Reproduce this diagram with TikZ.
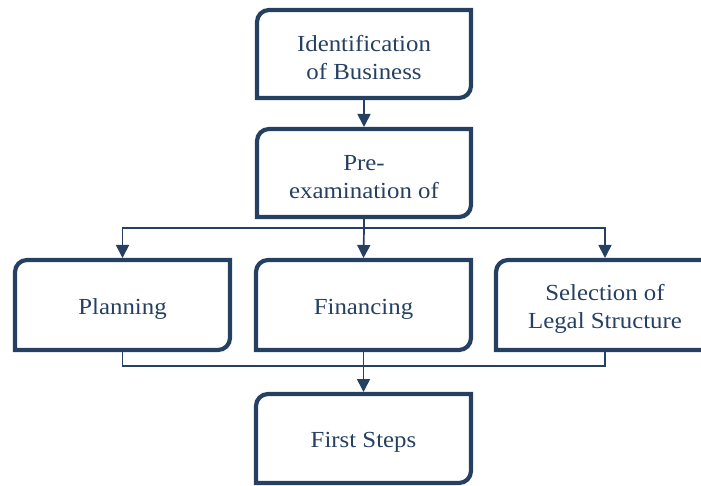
\documentclass[tikz,border=0pt]{standalone}
\usepackage{fontspec}
\setmainfont{Liberation Serif}[FakeStretch=1.08]
\usetikzlibrary{arrows.meta,calc}
\definecolor{navy}{RGB}{38,64,97}
\newcommand{\rr}{12pt}
\newcommand{\bizbox}[1]{\draw[boxline] (#1.north east) -- ([yshift=\rr]#1.south east) arc[start angle=0,end angle=-90,radius=\rr] -- (#1.south west) -- ([yshift=-\rr]#1.north west) arc[start angle=180,end angle=90,radius=\rr] -- cycle;}
\begin{document}
\begin{tikzpicture}[x=1pt,y=1pt,
  boxnode/.style={draw=none,rectangle,inner sep=0pt,outer sep=0pt},
  lbl/.style={align=center,text=navy,yshift=-4pt,inner sep=0pt,
    font=\fontsize{23}{28}\selectfont},
  boxline/.style={draw=navy,line width=4.2pt,line join=miter},
  conn/.style={draw=navy,line width=1.7pt},
  arr/.style={conn,-{Triangle[width=13pt,length=13pt]},shorten >=2pt}]
\useasboundingbox (0,0) rectangle (701,485);
\clip (0,0) rectangle (701,485);
\node[boxnode,minimum width=214pt,minimum height=88pt,label={[lbl]center:{Identification\\of Business}}] (ident) at (364,431) {};
\node[boxnode,minimum width=214pt,minimum height=88pt,label={[lbl]center:{Pre-\\examination of}}] (pre) at (364,312) {};
\node[boxnode,minimum width=215pt,minimum height=90pt,label={[lbl]center:Planning}] (plan) at (122.5,180) {};
\node[boxnode,minimum width=215pt,minimum height=90pt,label={[lbl]center:Financing}] (fin) at (363.5,180) {};
\node[boxnode,minimum width=218pt,minimum height=90pt,label={[lbl]center:{Selection of\\Legal Structure}}] (sel) at (605,180) {};
\node[boxnode,minimum width=215pt,minimum height=89pt,label={[lbl]center:{First Steps}}] (first) at (363.5,46.5) {};
\foreach \n in {ident,pre,plan,fin,sel,first} {\bizbox{\n}}
\coordinate (split) at (364,257);
\coordinate (merge) at (363.5,119);
\draw[arr] (ident.south) -- (pre.north);
\draw[conn] (pre.south) -- (split);
\draw[arr] (split) -| (plan.north);
\draw[arr] (split) -| (sel.north);
\draw[arr] (split) -- (fin.north);
\draw[conn] (plan.south) |- (merge);
\draw[conn] (sel.south) |- (merge);
\draw[arr] (fin.south) -- (first.north);
\end{tikzpicture}
\end{document}
